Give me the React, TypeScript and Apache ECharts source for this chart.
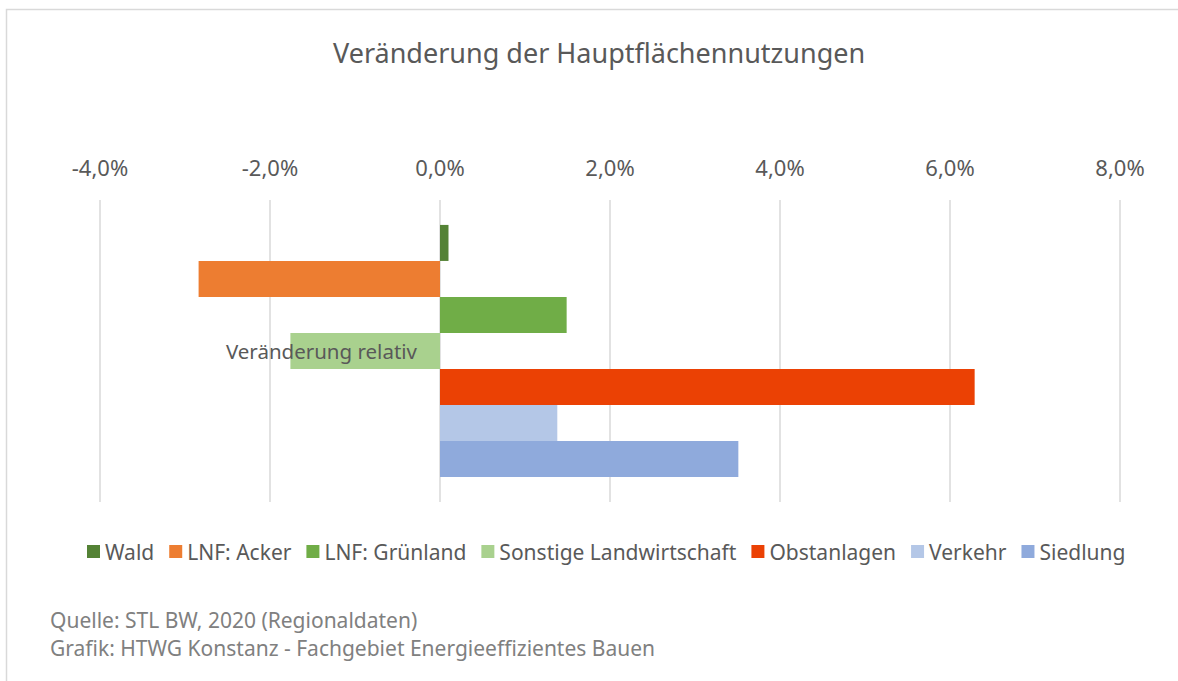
import React, { useEffect, useRef } from "react";
import * as echarts from "echarts";

const categories = ["Veränderung relativ"];
const seriesNames = [
  "Wald",
  "LNF: Acker",
  "LNF: Grünland",
  "Sonstige Landwirtschaft",
  "Obstanlagen",
  "Verkehr",
  "Siedlung",
];
const seriesValues = [0.1, -2.84, 1.49, -1.76, 6.29, 1.38, 3.51];
const seriesColors = ["#548235", "#ED7D31", "#70AD47", "#A9D18E", "#EB4104", "#B4C7E7", "#8FAADC"];
const titleText = "Veränderung der Hauptflächennutzungen";
const footerLines = [
  "Quelle: STL BW, 2020 (Regionaldaten)",
  "Grafik: HTWG Konstanz - Fachgebiet Energieeffizientes Bauen",
];

const FONT = "'Noto Sans', 'Open Sans', sans-serif";

export default function App() {
  const ref = useRef<HTMLDivElement>(null);
  useEffect(() => {
    document.body.style.margin = "0";
    if (!ref.current) return;
    const chart = echarts.init(ref.current, null, { renderer: "svg" });
    chart.setOption({
      animation: false,
      backgroundColor: "#ffffff",
      textStyle: { fontFamily: FONT },
      title: {
        text: titleText,
        left: 328,
        top: 34,
        textStyle: { fontFamily: FONT, fontSize: 27, fontWeight: "normal", color: "#595959" },
      },
      legend: {
        bottom: 114,
        left: 82,
        icon: "rect",
        itemWidth: 13,
        itemHeight: 13,
        itemGap: 15,
        textStyle: { fontFamily: FONT, fontSize: 21, color: "#595959" },
        data: seriesNames,
      },
      grid: {
        left: 100,
        right: 58,
        top: 200,
        bottom: 179,
        containLabel: false,
        outerBoundsMode: "none",
      },
      xAxis: {
        type: "value",
        position: "top",
        min: -4,
        max: 8,
        interval: 2,
        axisLine: { show: false },
        axisTick: { show: false },
        splitLine: { show: true, lineStyle: { color: "#D9D9D9", width: 1.5 } },
        axisLabel: {
          margin: 22,
          fontFamily: FONT,
          fontSize: 22,
          color: "#595959",
          formatter: (v: number) => v.toFixed(1).replace(".", ",") + "%",
        },
      },
      yAxis: {
        type: "category",
        data: categories,
        z: 5,
        axisLine: { show: false },
        axisTick: { show: false },
        splitLine: { show: false },
        axisLabel: { margin: -317, fontFamily: FONT, fontSize: 20.5, color: "#595959", align: "right" },
      },
      series: seriesNames.map((name, i) => ({
        name,
        type: "bar",
        barGap: "0%",
        barCategoryGap: "16.5%",
        itemStyle: { color: seriesColors[i] },
        data: [seriesValues[i]],
      })),
      graphic: [
        {
          type: "rect",
          shape: { x: 6.5, y: 9.5, width: 1200, height: 700 },
          style: { fill: "none", stroke: "#D9D9D9", lineWidth: 1.5 },
          silent: true,
        },
        ...footerLines.map((t, i) => ({
          type: "text",
          left: 50,
          top: 609 + i * 28,
          style: { text: t, fontFamily: FONT, fontSize: 21, fill: "#808080" },
        })),
      ],
    });
    return () => chart.dispose();
  }, []);
  return <div ref={ref} style={{ width: 1178, height: 681 }} />;
}
